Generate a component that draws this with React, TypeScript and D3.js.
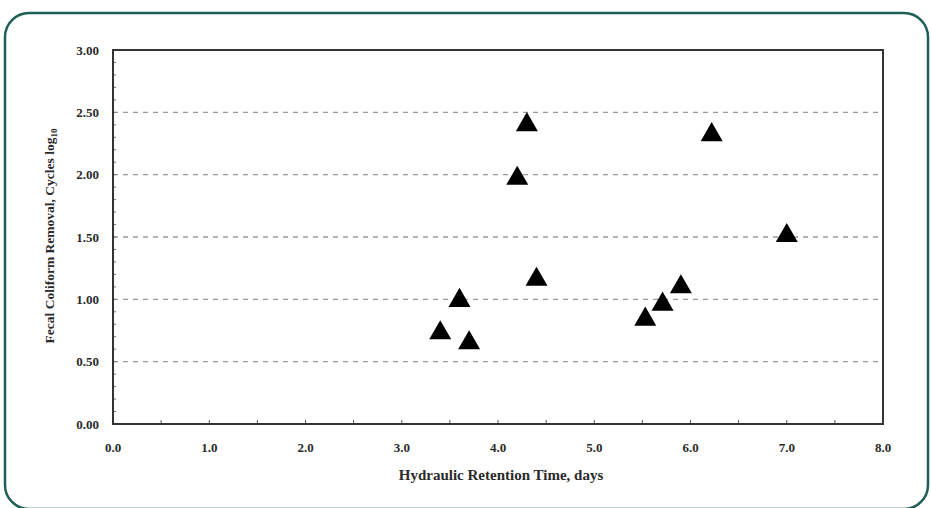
import React, { useEffect, useRef } from 'react';
import * as d3 from 'd3';

// hydraulic retention time (days) and removal (log10 cycles)
const hrtDays = [3.4, 3.6, 3.7, 4.2, 4.3, 4.4, 5.53, 5.71, 5.9, 6.22, 7.0];
const removalLogs = [0.73, 0.99, 0.65, 1.97, 2.4, 1.16, 0.84, 0.96, 1.1, 2.32, 1.51];

const xTicks = [0, 1, 2, 3, 4, 5, 6, 7, 8];
const yTicks = [0, 0.5, 1, 1.5, 2, 2.5, 3];
const gridValues = [0.5, 1, 1.5, 2, 2.5];

const W = 931;
const H = 508;

export default function App() {
  const svgRef = useRef<SVGSVGElement>(null);

  useEffect(() => {
    if (!svgRef.current) return;
    const svg = d3.select(svgRef.current);
    svg.selectAll('*').remove();

    const left = 113, right = 883, top = 50, bottom = 424;
    const font = "'Liberation Serif', 'Times New Roman', serif";

    // outer rounded frame
    svg.append('rect')
      .attr('x', 5).attr('y', 13)
      .attr('width', 923).attr('height', 496)
      .attr('rx', 24)
      .attr('fill', 'white')
      .attr('stroke', '#1d5e57')
      .attr('stroke-width', 2.5);

    const x = d3.scaleLinear().domain([0, 8]).range([left, right]);
    const y = d3.scaleLinear().domain([0, 3]).range([bottom, top]);

    // dashed gridlines
    svg.append('g')
      .selectAll('line')
      .data(gridValues)
      .enter()
      .append('line')
      .attr('x1', left).attr('x2', right)
      .attr('y1', d => y(d)).attr('y2', d => y(d))
      .attr('stroke', '#999')
      .attr('stroke-width', 1.3)
      .attr('stroke-dasharray', '5,5');

    // inner minor ticks
    const xMinor = d3.range(0.5, 8, 0.5);
    svg.append('g')
      .selectAll('line')
      .data(xMinor)
      .enter()
      .append('line')
      .attr('x1', d => x(d)).attr('x2', d => x(d))
      .attr('y1', bottom).attr('y2', bottom - 4)
      .attr('stroke', '#555');
    const yMinor = d3.range(0.1, 3, 0.1);
    svg.append('g')
      .selectAll('line')
      .data(yMinor)
      .enter()
      .append('line')
      .attr('x1', left).attr('x2', left + 3)
      .attr('y1', d => y(d)).attr('y2', d => y(d))
      .attr('stroke', '#777');

    // plot box
    svg.append('rect')
      .attr('x', left).attr('y', top)
      .attr('width', right - left).attr('height', bottom - top)
      .attr('fill', 'none')
      .attr('stroke', '#333')
      .attr('stroke-width', 2);

    // tick labels
    svg.append('g')
      .selectAll('text')
      .data(xTicks)
      .enter()
      .append('text')
      .attr('x', d => x(d))
      .attr('y', bottom + 28)
      .attr('text-anchor', 'middle')
      .attr('font-family', font)
      .attr('font-weight', 'bold')
      .attr('font-size', 13)
      .attr('fill', '#2a2a2a')
      .text(d => d.toFixed(1));

    svg.append('g')
      .selectAll('text')
      .data(yTicks)
      .enter()
      .append('text')
      .attr('x', left - 14)
      .attr('y', d => y(d) + 4.5)
      .attr('text-anchor', 'end')
      .attr('font-family', font)
      .attr('font-weight', 'bold')
      .attr('font-size', 13)
      .attr('fill', '#2a2a2a')
      .text(d => d.toFixed(2));

    // axis titles
    svg.append('text')
      .attr('x', 501).attr('y', 480)
      .attr('text-anchor', 'middle')
      .attr('font-family', font)
      .attr('font-weight', 'bold')
      .attr('font-size', 15)
      .attr('fill', '#2a2a2a')
      .text('Hydraulic Retention Time, days');

    const yt = svg.append('text')
      .attr('transform', `translate(54,236) rotate(-90)`)
      .attr('text-anchor', 'middle')
      .attr('font-family', font)
      .attr('font-weight', 'bold')
      .attr('font-size', 13.5)
      .attr('fill', '#2a2a2a');
    yt.append('tspan').text('Fecal Coliform Removal, Cycles log');
    yt.append('tspan').attr('font-size', 9).attr('dy', 3).text('10');

    // triangles
    const tri = d3.symbol().type(d3.symbolTriangle).size(210);
    svg.append('g')
      .selectAll('path')
      .data(hrtDays.map((d, i) => ({ x: d, y: removalLogs[i] })))
      .enter()
      .append('path')
      .attr('d', tri)
      .attr('transform', d => `translate(${x(d.x)},${y(d.y)})`)
      .attr('fill', '#000');
  }, []);

  return (
    <svg
      ref={svgRef}
      width={W}
      height={H}
      style={{ position: 'absolute', left: 0, top: 0, background: 'white' }}
    />
  );
}
